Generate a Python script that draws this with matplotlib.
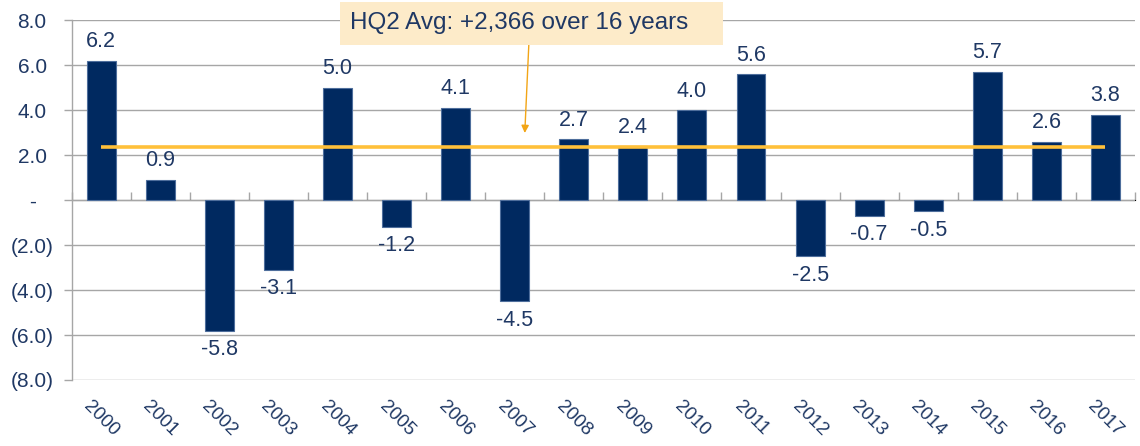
import matplotlib
matplotlib.use("Agg")
import matplotlib.pyplot as plt
import matplotlib.patches as mpatches
import numpy as np

years = [str(y) for y in range(2000, 2018)]
values = [6.2, 0.9, -5.8, -3.1, 5.0, -1.2, 4.1, -4.5, 2.7, 2.4, 4.0, 5.6, -2.5, -0.7, -0.5, 5.7, 2.6, 3.8]
avg_value = 2.366
avg_label = "HQ2 Avg: +2,366 over 16 years"
yticks = [8, 6, 4, 2, 0, -2, -4, -6, -8]
ytick_labels = ["8.0", "6.0", "4.0", "2.0", "-", "(2.0)", "(4.0)", "(6.0)", "(8.0)"]

NAVY = "#002960"
TEXT = "#1F3864"
GRID = "#A6A6A6"
ORANGE = "#FFC03A"

plt.rcParams['font.family'] = ['Liberation Sans', 'DejaVu Sans']

fig = plt.figure(figsize=(11.4, 4.46), dpi=100)
ax = fig.add_axes([0.0629, 0.148, 0.9327, 0.807])

x = np.arange(len(years))
ax.bar(x, values, width=0.49, color=NAVY, edgecolor="#4E6E9C", linewidth=0.8, zorder=3)

ax.set_xlim(-0.5, len(years) - 0.5)
ax.set_ylim(-8, 8)
ax.set_yticks(yticks)
ax.set_yticklabels(ytick_labels, fontsize=15, color=TEXT)
for lbl in ax.get_yticklabels():
    lbl.set_horizontalalignment('center')
ax.tick_params(axis='y', length=5.5, color=GRID, width=1, pad=23)
ax.yaxis.grid(True, color=GRID, linewidth=1, zorder=0)
ax.set_axisbelow(True)

ax.set_xticks(x)
ax.set_xticklabels(years, rotation=-45, ha='center', va='top', fontsize=13.5, color=TEXT)
ax.tick_params(axis='x', length=0, pad=13)

for sp in ['top', 'right', 'bottom']:
    ax.spines[sp].set_visible(False)
ax.spines['left'].set_color(GRID)
ax.spines['left'].set_linewidth(1)

# zero axis line with category boundary ticks
sec = ax.secondary_xaxis(0.5)
sec.set_xticks(np.arange(-0.5, len(years), 1.0))
sec.set_xticklabels([])
sec.tick_params(axis='x', length=5.5, color=GRID, width=1, direction='out')
sec.spines['bottom'].set_color(GRID)
sec.spines['bottom'].set_linewidth(1)

# value labels
for xi, v in zip(x, values):
    off, va = (6, 'bottom') if v >= 0 else (-6, 'top')
    ax.annotate(f"{v:.1f}", (xi, v), xytext=(0, off), textcoords='offset points',
                ha='center', va=va, fontsize=15.5, color=TEXT)

# average line
ax.plot([x[0], x[-1]], [avg_value, avg_value], color=ORANGE, linewidth=2.6, zorder=4,
        solid_capstyle='butt')

# annotation box
box = mpatches.Rectangle((340 / 1140, 1 - 45 / 446), 383 / 1140, 43 / 446,
                         transform=fig.transFigure, facecolor='#FDEBC9', edgecolor='none', zorder=5)
fig.patches.append(box)
fig.text(350 / 1140, 1 - 23.5 / 446, avg_label, ha='left', va='center', fontsize=17.5,
         color=TEXT, zorder=6)
ax.annotate("", xy=(7.17, 2.98), xytext=(7.24, 7.0), textcoords='data',
            arrowprops=dict(arrowstyle='-|>', color='#F2A516', lw=1.0, mutation_scale=11,
                            shrinkA=0, shrinkB=0),
            annotation_clip=False, zorder=6)

fig.savefig("out.png", dpi=100)
